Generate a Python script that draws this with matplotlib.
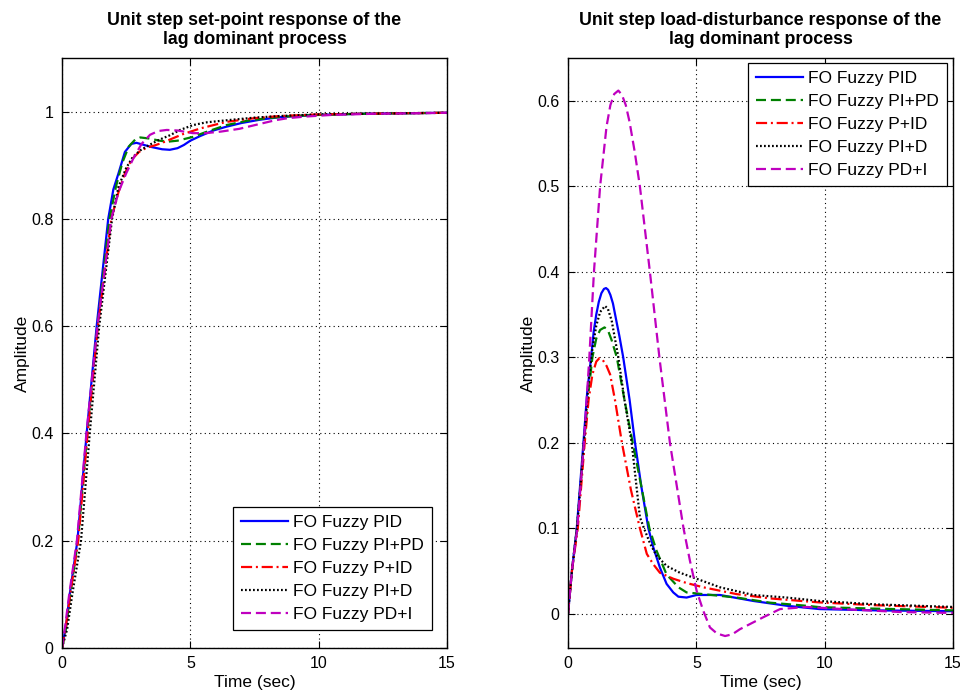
import matplotlib
matplotlib.use("Agg")
import matplotlib.pyplot as plt

plt.rcParams['font.family'] = ['Liberation Sans', 'DejaVu Sans']

# --- set-point responses (time in sec, amplitude) ---
sp_pid_t = [0, 0.15, 0.3, 0.6, 0.96, 1.35, 1.8, 2.0, 2.2, 2.45, 2.7, 2.9, 3.2, 3.5, 3.9, 4.2,
            4.5, 4.75, 5.0, 5.4, 5.9, 6.4, 7.0, 7.7, 8.5, 9.9, 11.5, 13, 15]
sp_pid_y = [0, 0.04, 0.10, 0.20, 0.40, 0.60, 0.80, 0.855, 0.885, 0.925, 0.940, 0.942, 0.938,
            0.934, 0.930, 0.929, 0.932, 0.938, 0.946, 0.955, 0.965, 0.972, 0.979, 0.985, 0.99,
            0.994, 0.996, 0.997, 0.998]

sp_pipd_t = [0, 0.15, 0.32, 0.62, 0.98, 1.38, 1.85, 2.1, 2.35, 2.6, 2.85, 3.05, 3.4, 3.8, 4.1,
             4.5, 5.1, 5.6, 6.4, 7.2, 8.0, 9.0, 10, 11.5, 13, 15]
sp_pipd_y = [0, 0.035, 0.10, 0.20, 0.40, 0.60, 0.80, 0.86, 0.905, 0.935, 0.948, 0.952, 0.950,
             0.946, 0.944, 0.946, 0.953, 0.962, 0.975, 0.983, 0.988, 0.992, 0.994, 0.996,
             0.997, 0.998]

sp_pid2_t = [0, 0.15, 0.32, 0.63, 1.0, 1.4, 1.92, 2.2, 2.45, 2.7, 3.0, 3.3, 3.6, 3.9, 4.2, 4.7,
             5.4, 6.4, 7.5, 8.5, 10, 11.5, 13, 15]
sp_pid2_y = [0, 0.04, 0.10, 0.20, 0.40, 0.60, 0.80, 0.85, 0.885, 0.910, 0.925, 0.933, 0.937,
             0.942, 0.948, 0.958, 0.969, 0.981, 0.988, 0.992, 0.995, 0.996, 0.997, 0.998]

sp_pid3_t = [0, 0.2, 0.4, 0.74, 1.08, 1.45, 1.95, 2.2, 2.5, 2.75, 3.05, 3.4, 3.8, 4.2, 4.6, 5.1,
             5.6, 6.4, 7.5, 8.5, 10, 11.5, 13, 15]
sp_pid3_y = [0, 0.035, 0.10, 0.20, 0.40, 0.60, 0.80, 0.86, 0.895, 0.915, 0.928, 0.938, 0.948,
             0.956, 0.966, 0.975, 0.980, 0.984, 0.989, 0.992, 0.995, 0.996, 0.997, 0.998]

sp_pdi_t = [0, 0.12, 0.28, 0.58, 0.95, 1.38, 1.92, 2.2, 2.5, 2.78, 3.1, 3.43, 3.75, 4.08, 4.5,
            5.1, 5.6, 6.2, 6.9, 7.6, 8.3, 8.8, 9.5, 10.5, 12, 15]
sp_pdi_y = [0, 0.04, 0.10, 0.20, 0.40, 0.60, 0.80, 0.85, 0.885, 0.913, 0.94, 0.957, 0.964, 0.966,
            0.965, 0.960, 0.960, 0.963, 0.968, 0.976, 0.984, 0.988, 0.991, 0.994, 0.996, 0.998]

# --- load-disturbance responses ---
ld_pid_t = [0, 0.15, 0.34, 0.6, 0.75, 0.9, 1.0, 1.1, 1.2, 1.3, 1.4, 1.48, 1.56, 1.65, 1.75, 1.9,
            2.0, 2.15, 2.4, 2.61, 2.85, 3.13, 3.32, 3.58, 3.84, 4.1, 4.3, 4.62, 5.01, 5.92, 7.22,
            8.52, 9.8, 12, 15]
ld_pid_y = [0, 0.05, 0.10, 0.20, 0.26, 0.30, 0.33, 0.35, 0.365, 0.375, 0.380, 0.381, 0.379,
            0.373, 0.363, 0.34, 0.325, 0.30, 0.25, 0.20, 0.15, 0.10, 0.078, 0.054, 0.035, 0.025,
            0.020, 0.019, 0.022, 0.022, 0.015, 0.0094, 0.0055, 0.004, 0.003]

ld_pipd_t = [0, 0.15, 0.35, 0.62, 0.8, 0.95, 1.1, 1.25, 1.42, 1.55, 1.7, 1.9, 2.2, 2.52, 2.85,
             3.17, 3.45, 3.84, 4.3, 4.62, 5.27, 6.57, 7.87, 9.17, 9.8, 12, 15]
ld_pipd_y = [0, 0.05, 0.10, 0.20, 0.26, 0.30, 0.322, 0.332, 0.335, 0.332, 0.32, 0.30, 0.25,
             0.20, 0.15, 0.10, 0.0737, 0.046, 0.031, 0.025, 0.023, 0.019, 0.013, 0.0097, 0.0078,
             0.006, 0.004]

ld_pid2_t = [0, 0.15, 0.38, 0.65, 0.8, 0.95, 1.1, 1.22, 1.35, 1.5, 1.64, 1.83, 2.1, 2.45, 2.8,
             3.07, 3.32, 3.58, 4.1, 4.62, 5.27, 6.57, 7.87, 9.17, 9.8, 12, 15]
ld_pid2_y = [0, 0.05, 0.10, 0.20, 0.25, 0.28, 0.295, 0.299, 0.297, 0.29, 0.28, 0.25, 0.20,
             0.145, 0.10, 0.070, 0.058, 0.048, 0.041, 0.036, 0.031, 0.023, 0.018, 0.0148,
             0.0133, 0.010, 0.007]

ld_pid3_t = [0, 0.15, 0.35, 0.62, 0.8, 0.95, 1.1, 1.25, 1.44, 1.55, 1.7, 1.96, 2.2, 2.48, 2.8,
             2.96, 3.2, 3.45, 3.84, 4.36, 5.01, 5.92, 7.22, 8.52, 9.8, 12, 15]
ld_pid3_y = [0, 0.05, 0.10, 0.20, 0.27, 0.31, 0.337, 0.353, 0.360, 0.357, 0.343, 0.30, 0.25,
             0.20, 0.113, 0.10, 0.082, 0.068, 0.056, 0.048, 0.041, 0.031, 0.022, 0.019, 0.015,
             0.011, 0.008]

ld_pdi_t = [0, 0.15, 0.36, 0.62, 0.83, 1.01, 1.25, 1.5, 1.65, 1.8, 1.96, 2.1, 2.25, 2.4, 2.6,
            2.8, 3.19, 3.56, 3.97, 4.5, 4.75, 5.01, 5.27, 5.53, 5.8, 6.12, 6.4, 6.7, 7.61, 8.26,
            9.3, 11, 13, 15]
ld_pdi_y = [0, 0.05, 0.10, 0.20, 0.30, 0.40, 0.50, 0.57, 0.595, 0.608, 0.612, 0.607, 0.595,
            0.575, 0.54, 0.50, 0.40, 0.30, 0.20, 0.10, 0.062, 0.027, 0.0035, -0.016, -0.023,
            -0.026, -0.024, -0.018, -0.004, 0.0055, 0.008, 0.005, 0.002, 0.001]

labels = ['FO Fuzzy PID', 'FO Fuzzy PI+PD', 'FO Fuzzy P+ID', 'FO Fuzzy PI+D', 'FO Fuzzy PD+I']
colors = ['#0000ff', '#008000', '#ff0000', '#000000', '#bf00bf']
styles = ['-', (0, (4.5, 2.2)), (0, (5, 1.7, 0.9, 1.7)), (0, (0.8, 1.0)), (0, (4.5, 2.2))]

set_point = [(sp_pid_t, sp_pid_y), (sp_pipd_t, sp_pipd_y), (sp_pid2_t, sp_pid2_y),
             (sp_pid3_t, sp_pid3_y), (sp_pdi_t, sp_pdi_y)]
load_dist = [(ld_pid_t, ld_pid_y), (ld_pipd_t, ld_pipd_y), (ld_pid2_t, ld_pid2_y),
             (ld_pid3_t, ld_pid3_y), (ld_pdi_t, ld_pdi_y)]

fig = plt.figure(figsize=(9.6, 6.94), dpi=100)
ax1 = fig.add_axes([0.0646, 0.0663, 0.401, 0.850])
ax2 = fig.add_axes([0.5917, 0.0663, 0.401, 0.850])


def style_axes(ax, title, ylim, yticks, yticklabels):
    ax.set_xlim(0, 15)
    ax.set_ylim(*ylim)
    ax.set_xticks([0, 5, 10, 15])
    ax.set_yticks(yticks)
    ax.set_yticklabels(yticklabels)
    ax.tick_params(direction='in', top=True, right=True, labelsize=11.5, length=5, width=0.8,
                   pad=6)
    ax.grid(True, color='black', linestyle=(0, (1, 3)), linewidth=0.8)
    for sp in ax.spines.values():
        sp.set_linewidth(1.0)
    ax.set_title(title, fontsize=12.8, fontweight='bold', pad=10, linespacing=1.15)
    ax.set_xlabel('Time (sec)', fontsize=12.5, labelpad=3)
    ax.set_ylabel('Amplitude', fontsize=12.5, labelpad=1)


for (t, y), lab, c, ls in zip(set_point, labels, colors, styles):
    ax1.plot(t, y, color=c, linestyle=ls, linewidth=1.6, label=lab)
for (t, y), lab, c, ls in zip(load_dist, labels, colors, styles):
    ax2.plot(t, y, color=c, linestyle=ls, linewidth=1.6, label=lab)

style_axes(ax1, 'Unit step set-point response of the\nlag dominant process', (0, 1.1),
           [0, 0.2, 0.4, 0.6, 0.8, 1.0], ['0', '0.2', '0.4', '0.6', '0.8', '1'])
style_axes(ax2, 'Unit step load-disturbance response of the\nlag dominant process', (-0.04, 0.65),
           [0, 0.1, 0.2, 0.3, 0.4, 0.5, 0.6], ['0', '0.1', '0.2', '0.3', '0.4', '0.5', '0.6'])

leg_kw = dict(fontsize=12.5, frameon=True, fancybox=False, edgecolor='black', framealpha=1,
              borderaxespad=0, handlelength=2.7, handletextpad=0.3, labelspacing=0.45,
              borderpad=0.45)
leg1 = ax1.legend(loc='lower right', bbox_to_anchor=(0.961, 0.0305), **leg_kw)
leg2 = ax2.legend(loc='upper right', bbox_to_anchor=(0.984, 0.9915), **leg_kw)
for leg in (leg1, leg2):
    leg.get_frame().set_linewidth(0.9)

fig.savefig('out.png', dpi=100)
